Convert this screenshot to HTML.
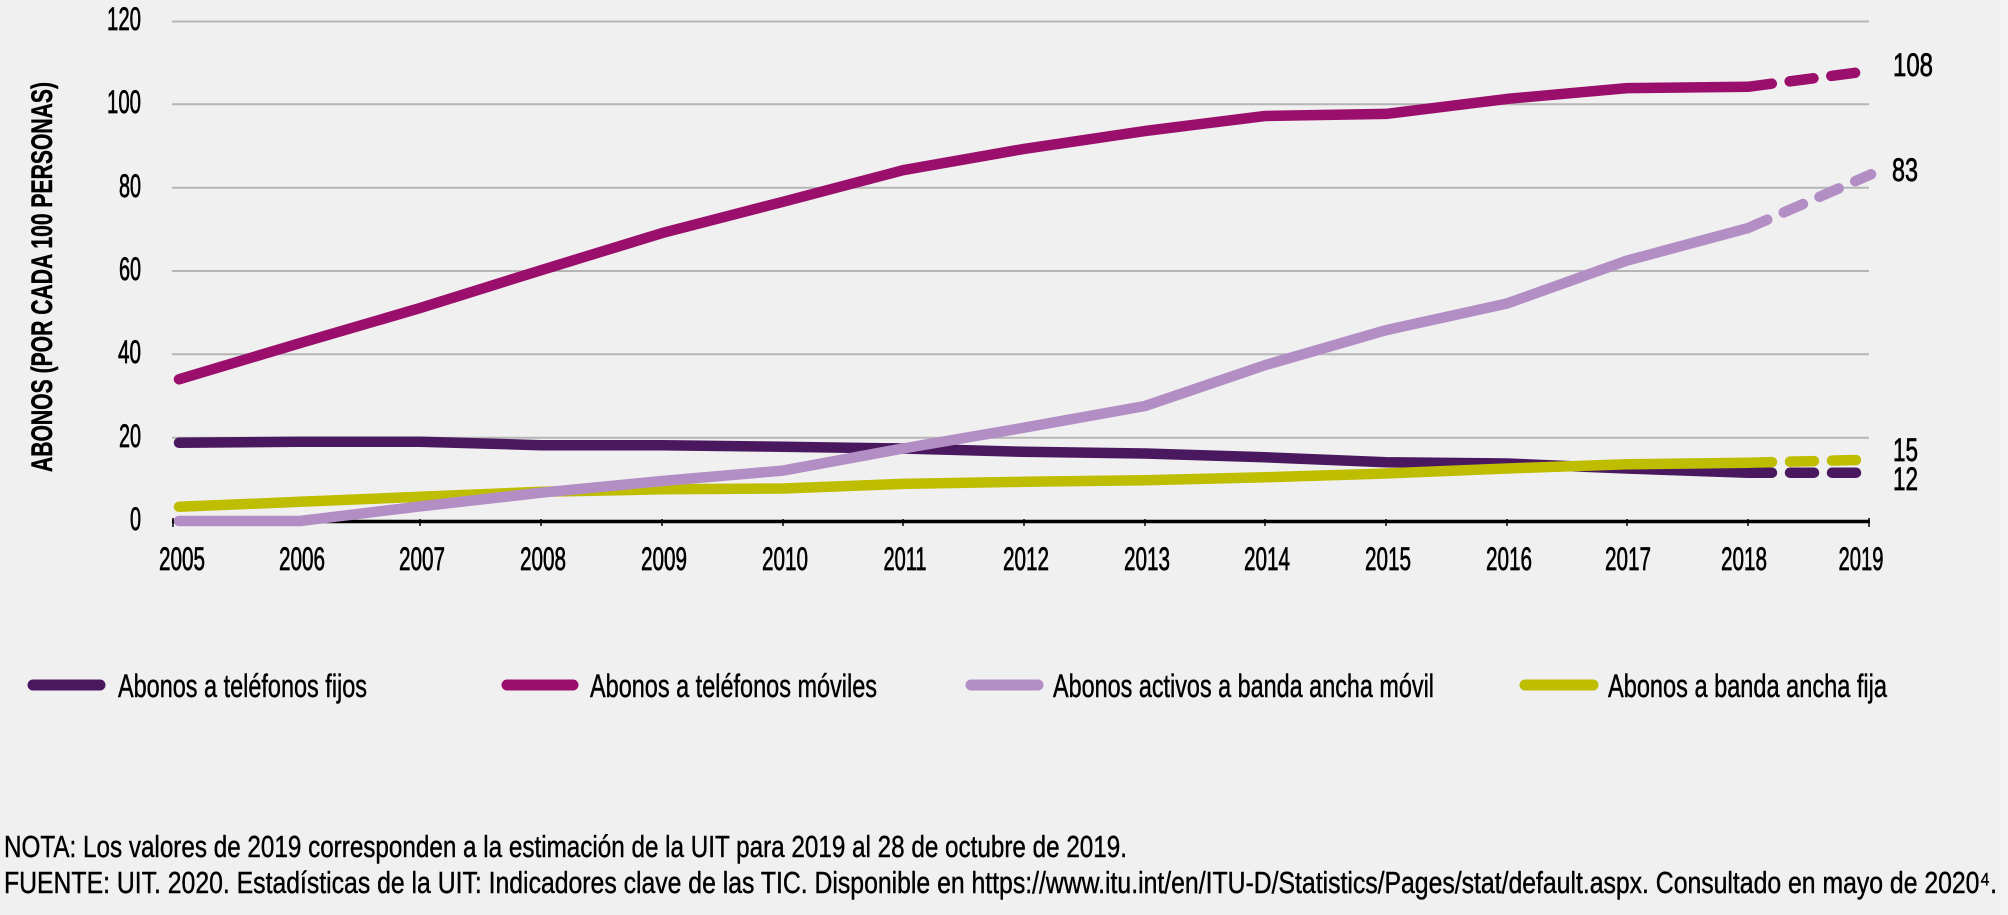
<!DOCTYPE html>
<html><head><meta charset="utf-8"><style>
html,body{margin:0;padding:0;background:#f0f0f0;}
svg{display:block;}
text{font-family:"Liberation Sans Narrow","Liberation Sans",sans-serif;fill:#000;}
.w{stroke:#000;stroke-width:0.7px;}
.w2{stroke:#000;stroke-width:0.45px;}
</style></head><body>
<svg width="2008" height="915" viewBox="0 0 2008 915" xmlns="http://www.w3.org/2000/svg">
<rect x="0" y="0" width="2008" height="915" fill="#f0f0f0"/>
<rect x="2000" y="0" width="8" height="915" fill="#f3f3f3"/>
<!-- gridlines -->
<g stroke="#b5b5b5" stroke-width="2">
<line x1="172" y1="21.5" x2="1869" y2="21.5"/>
<line x1="172" y1="104.3" x2="1869" y2="104.3"/>
<line x1="172" y1="187.7" x2="1869" y2="187.7"/>
<line x1="172" y1="271" x2="1869" y2="271"/>
<line x1="172" y1="354.3" x2="1869" y2="354.3"/>
<line x1="172" y1="437.7" x2="1869" y2="437.7"/>
</g>
<!-- axis -->
<line x1="172" y1="521.5" x2="1870" y2="521.5" stroke="#000" stroke-width="3.5"/>
<g stroke="#000" stroke-width="1.5">
<line x1="173" y1="518" x2="173" y2="527"/><line x1="300" y1="519" x2="300" y2="526"/><line x1="420" y1="519" x2="420" y2="526"/><line x1="541" y1="519" x2="541" y2="526"/><line x1="662" y1="519" x2="662" y2="526"/><line x1="783" y1="519" x2="783" y2="526"/><line x1="903" y1="519" x2="903" y2="526"/><line x1="1024" y1="519" x2="1024" y2="526"/><line x1="1145" y1="519" x2="1145" y2="526"/><line x1="1265" y1="519" x2="1265" y2="526"/><line x1="1386" y1="519" x2="1386" y2="526"/><line x1="1507" y1="519" x2="1507" y2="526"/><line x1="1627" y1="519" x2="1627" y2="526"/><line x1="1748" y1="519" x2="1748" y2="526"/><line x1="1869" y1="518" x2="1869" y2="527"/>
</g>
<!-- y tick labels -->
<g font-size="32" text-anchor="end" class="w">
<text x="141" y="30" textLength="34" lengthAdjust="spacingAndGlyphs">120</text>
<text x="141" y="113" textLength="34" lengthAdjust="spacingAndGlyphs">100</text>
<text x="141" y="197" textLength="22" lengthAdjust="spacingAndGlyphs">80</text>
<text x="141" y="280" textLength="22" lengthAdjust="spacingAndGlyphs">60</text>
<text x="141" y="363" textLength="23" lengthAdjust="spacingAndGlyphs">40</text>
<text x="141" y="447" textLength="22" lengthAdjust="spacingAndGlyphs">20</text>
<text x="141" y="530" textLength="11" lengthAdjust="spacingAndGlyphs">0</text>
</g>
<!-- y title -->
<text transform="translate(52,277) rotate(-90)" text-anchor="middle" font-size="30" font-weight="bold" textLength="390" lengthAdjust="spacingAndGlyphs" class="w2">ABONOS (POR CADA 100 PERSONAS)</text>
<!-- x labels -->
<g font-size="32" text-anchor="middle" class="w">
<text x="182" y="570" textLength="46" lengthAdjust="spacingAndGlyphs">2005</text>
<text x="302" y="570" textLength="46" lengthAdjust="spacingAndGlyphs">2006</text>
<text x="422" y="570" textLength="46" lengthAdjust="spacingAndGlyphs">2007</text>
<text x="543" y="570" textLength="46" lengthAdjust="spacingAndGlyphs">2008</text>
<text x="664" y="570" textLength="46" lengthAdjust="spacingAndGlyphs">2009</text>
<text x="785" y="570" textLength="46" lengthAdjust="spacingAndGlyphs">2010</text>
<text x="905" y="570" textLength="43" lengthAdjust="spacingAndGlyphs">2011</text>
<text x="1026" y="570" textLength="46" lengthAdjust="spacingAndGlyphs">2012</text>
<text x="1147" y="570" textLength="46" lengthAdjust="spacingAndGlyphs">2013</text>
<text x="1267" y="570" textLength="46" lengthAdjust="spacingAndGlyphs">2014</text>
<text x="1388" y="570" textLength="46" lengthAdjust="spacingAndGlyphs">2015</text>
<text x="1509" y="570" textLength="46" lengthAdjust="spacingAndGlyphs">2016</text>
<text x="1628" y="570" textLength="46" lengthAdjust="spacingAndGlyphs">2017</text>
<text x="1744" y="570" textLength="46" lengthAdjust="spacingAndGlyphs">2018</text>
<text x="1861" y="570" textLength="45" lengthAdjust="spacingAndGlyphs">2019</text>
</g>
<!-- series -->
<g fill="none" stroke-width="10.5" stroke-linecap="round" stroke-linejoin="round">
<polyline stroke="#4a185f" points="179,442.7 300,441.8 420,441.8 541,445.2 662,445.2 783,446.8 903,448.5 1024,451.8 1145,453.5 1265,457.3 1386,462.2 1507,463.5 1627,468.5 1748,472.7"/>
<line stroke="#4a185f" x1="1748" y1="472.7" x2="1869" y2="472.7" stroke-dasharray="24 18"/>
<polyline stroke="#bfbd00" points="179,506.8 300,501.8 420,496.8 541,491.8 662,489.3 783,488.5 903,483.9 1024,481.8 1145,480.2 1265,477.3 1386,473.5 1507,468.5 1627,464.3 1748,462.7"/>
<line stroke="#bfbd00" x1="1748" y1="462.7" x2="1869" y2="459.7" stroke-dasharray="24 18"/>
<polyline stroke="#b38ec5" points="179,521 300,521 420,506.4 541,492.7 662,481 783,470.6 903,448.5 1024,427.7 1145,406 1265,365.2 1386,330.2 1507,303.5 1627,260.6 1748,228.1"/>
<line stroke="#b38ec5" x1="1748" y1="228.1" x2="1871" y2="174.3" stroke-dasharray="21 18"/>
<polyline stroke="#9b0f6c" points="179,379.3 300,343.1 420,308.1 541,270.2 662,233.1 783,201.8 903,170.2 1024,148.9 1145,131 1265,116 1386,113.9 1507,98.9 1627,88.1 1748,86.8"/>
<line stroke="#9b0f6c" x1="1748" y1="86.8" x2="1869" y2="71" stroke-dasharray="24 18"/>
</g>
<!-- end labels -->
<g font-size="32" class="w">
<text x="1893" y="76" textLength="40" lengthAdjust="spacingAndGlyphs">108</text>
<text x="1892" y="181" textLength="26" lengthAdjust="spacingAndGlyphs">83</text>
<text x="1893" y="461" textLength="25" lengthAdjust="spacingAndGlyphs">15</text>
<text x="1893" y="490" textLength="25" lengthAdjust="spacingAndGlyphs">12</text>
</g>
<!-- legend -->
<g stroke-width="11" stroke-linecap="round">
<line x1="33" y1="685" x2="100" y2="685" stroke="#4a185f"/>
<line x1="507" y1="685" x2="573" y2="685" stroke="#9b0f6c"/>
<line x1="971" y1="685" x2="1038" y2="685" stroke="#b38ec5"/>
<line x1="1525" y1="685" x2="1593" y2="685" stroke="#bfbd00"/>
</g>
<g font-size="32" class="w2">
<text x="118" y="697" textLength="249" lengthAdjust="spacingAndGlyphs">Abonos a teléfonos fijos</text>
<text x="590" y="697" textLength="287" lengthAdjust="spacingAndGlyphs">Abonos a teléfonos móviles</text>
<text x="1053" y="697" textLength="381" lengthAdjust="spacingAndGlyphs">Abonos activos a banda ancha móvil</text>
<text x="1608" y="697" textLength="279" lengthAdjust="spacingAndGlyphs">Abonos a banda ancha fija</text>
</g>
<!-- footer -->
<g font-size="31" class="w2">
<text x="4" y="857" textLength="1123" lengthAdjust="spacingAndGlyphs">NOTA: Los valores de 2019 corresponden a la estimación de la UIT para 2019 al 28 de octubre de 2019.</text>
<text x="4" y="893" textLength="1993" lengthAdjust="spacingAndGlyphs">FUENTE: UIT. 2020. Estadísticas de la UIT: Indicadores clave de las TIC. Disponible en https://www.itu.int/en/ITU-D/Statistics/Pages/stat/default.aspx. Consultado en mayo de 2020⁴.</text>
</g>
</svg>
</body></html>
